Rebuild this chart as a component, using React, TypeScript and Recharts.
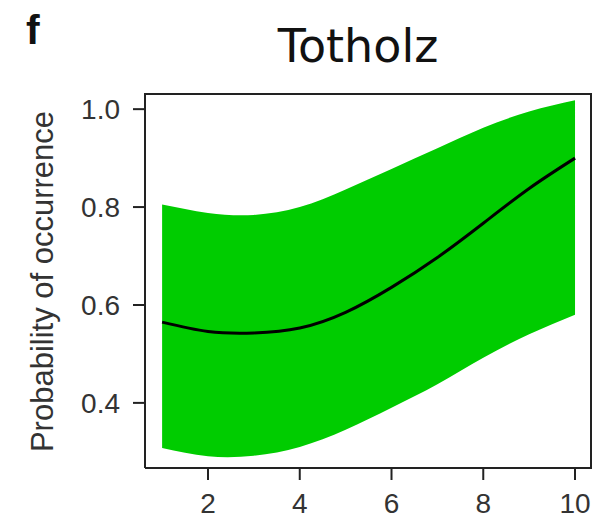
import {
  ComposedChart, Area, Line, XAxis, YAxis,
} from 'recharts'

// fitted probability curve with its confidence band
const deadwood = [1, 2, 3, 4, 5, 6, 7, 8, 9, 10]
const fitted = [0.565, 0.546, 0.543, 0.553, 0.585, 0.636, 0.697, 0.767, 0.838, 0.9]
const upperCI = [0.805, 0.788, 0.784, 0.8, 0.836, 0.878, 0.92, 0.962, 0.995, 1.018]
const lowerCI = [0.308, 0.291, 0.292, 0.31, 0.345, 0.39, 0.438, 0.492, 0.54, 0.58]

const xTicks = [2, 4, 6, 8, 10]
const yTicks = [0.4, 0.6, 0.8, 1.0]

const W = 605
const H = 519
const MARGIN_TOP = 93
const MARGIN_RIGHT = 13
const Y_AXIS_W = 145
const X_AXIS_H = 51
const FRAME = '#222'
const GREEN = '#00cc00'
const X_DOMAIN: [number, number] = [0.627, 10.37]
const Y_DOMAIN: [number, number] = [0.267, 1.033]
const TICK_FONT = { fontSize: 28, fontFamily: '"Liberation Sans", Arial, sans-serif', fill: '#333' }

const data = deadwood.map((x, i) => ({
  x,
  fit: fitted[i],
  band: [lowerCI[i], upperCI[i]],
}))

function YLabel() {
  return (
    <text
      x={53}
      y={281.5}
      transform="rotate(-90, 53, 281.5)"
      textAnchor="middle"
      fontSize={31}
      fontFamily='"Liberation Sans", Arial, sans-serif'
      fill="#333"
    >
      Probability of occurrence
    </text>
  )
}

export default function App() {
  const axisLine = { stroke: FRAME, strokeWidth: 2 }
  const plotW = W - Y_AXIS_W - MARGIN_RIGHT
  const plotH = H - MARGIN_TOP - X_AXIS_H
  const top = MARGIN_TOP + 1
  const right = Y_AXIS_W + plotW - 1
  const bottom = MARGIN_TOP + plotH
  return (
    <div style={{ position: 'absolute', left: 0, top: 0, width: W, height: H, background: '#fff' }}>
      <ComposedChart
        width={W}
        height={H}
        data={data}
        margin={{ top: MARGIN_TOP, right: MARGIN_RIGHT, bottom: 0, left: 0 }}
      >
        <XAxis
          dataKey="x"
          type="number"
          domain={X_DOMAIN}
          allowDataOverflow
          ticks={xTicks}
          height={X_AXIS_H}
          tickSize={12}
          tickMargin={13}
          axisLine={axisLine}
          tickLine={axisLine}
          tick={TICK_FONT}
        />
        <YAxis
          type="number"
          domain={Y_DOMAIN}
          allowDataOverflow
          ticks={yTicks}
          width={Y_AXIS_W}
          tickSize={12}
          tickMargin={13}
          axisLine={axisLine}
          tickLine={axisLine}
          tick={TICK_FONT}
          tickFormatter={(v: number) => v.toFixed(1)}
          label={{ content: () => <YLabel /> }}
        />
        <Area
          type="natural"
          dataKey="band"
          stroke="none"
          fill={GREEN}
          fillOpacity={1}
          isAnimationActive={false}
        />
        <Line
          type="natural"
          dataKey="fit"
          stroke="#000"
          strokeWidth={3}
          dot={false}
          isAnimationActive={false}
        />
      </ComposedChart>
      <svg width={W} height={H} style={{ position: 'absolute', left: 0, top: 0, pointerEvents: 'none' }}>
        {/* top and right edges closing the plot box */}
        <path
          d={`M${Y_AXIS_W},${top} L${right},${top} L${right},${bottom}`}
          fill="none"
          stroke={FRAME}
          strokeWidth={2}
        />
        <text x={26} y={44} fontSize={41} fontWeight="bold" fontFamily='"Liberation Sans", Arial, sans-serif' fill="#111">
          f
        </text>
        <text x={358} y={62} textAnchor="middle" fontSize={46} fontFamily='"DejaVu Sans", sans-serif' fill="#111">
          Totholz
        </text>
      </svg>
    </div>
  )
}
